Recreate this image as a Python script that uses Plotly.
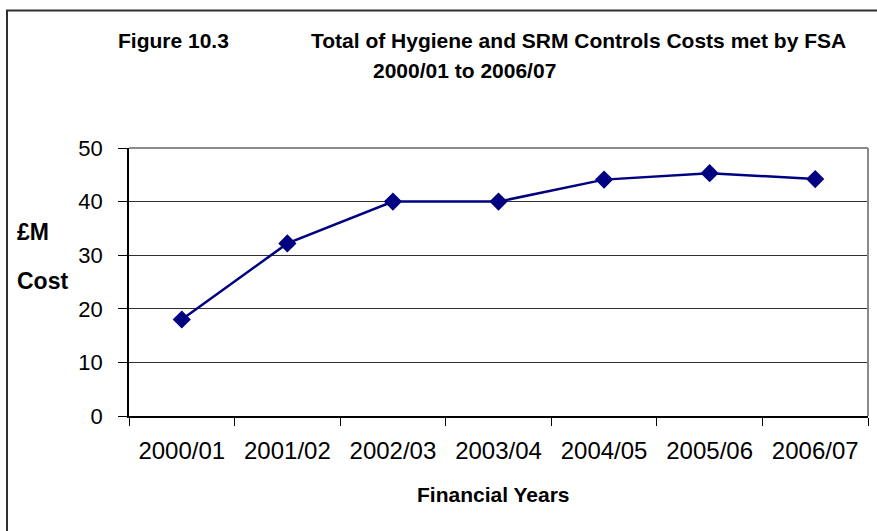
import plotly.graph_objects as go

years = ["2000/01", "2001/02", "2002/03", "2003/04", "2004/05", "2005/06", "2006/07"]
cost = [18.0, 32.2, 40.0, 40.0, 44.1, 45.3, 44.2]
y_ticks = [0, 10, 20, 30, 40, 50]

W, H = 877, 531
L, R, T, B = 129, 868, 147.5, 415.7

def px(x):
    return (x - L) / (R - L)

def py(y):
    return (B - y) / (B - T)

FONT = "Liberation Sans, Arial, sans-serif"

fig = go.Figure()
fig.add_trace(go.Scatter(
    x=years, y=cost, mode="lines+markers",
    line=dict(color="#000080", width=2.5),
    marker=dict(symbol="diamond", size=14, color="#000080"),
    showlegend=False, cliponaxis=False,
))

fig.update_layout(
    width=W, height=H,
    margin=dict(l=L, r=W - R, t=T, b=H - B, pad=0),
    paper_bgcolor="white", plot_bgcolor="white",
    font=dict(family=FONT, color="black"),
    xaxis=dict(
        type="category", range=[-0.5, len(years) - 0.5],
        showgrid=False, showline=True, linecolor="black", linewidth=1.5,
        ticks="outside", tickson="boundaries", ticklen=8, tickcolor="black",
        tickfont=dict(size=24, family=FONT), ticklabelstandoff=12,
        zeroline=False,
    ),
    yaxis=dict(
        range=[0, 50], tickvals=y_ticks,
        showgrid=True, gridcolor="#303030", gridwidth=1,
        showline=True, linecolor="black", linewidth=1.5,
        ticks="outside", ticklen=9, tickcolor="black",
        tickfont=dict(size=22, family=FONT), ticklabelstandoff=11,
        zeroline=False,
    ),
    shapes=[
        dict(type="line", xref="paper", yref="paper", x0=0, x1=1, y0=1, y1=1,
             line=dict(color="#8a8a8a", width=2)),
        dict(type="line", xref="paper", yref="paper", x0=1, x1=1, y0=0, y1=1,
             line=dict(color="#8a8a8a", width=2)),
        dict(type="rect", xref="paper", yref="paper",
             x0=px(7), x1=px(885), y0=py(545), y1=py(10),
             line=dict(color="#303030", width=2)),
    ],
)

def ann(text, x, y, size, xanchor="center"):
    fig.add_annotation(text=text, x=px(x), y=py(y), xref="paper", yref="paper",
                       xanchor=xanchor, yanchor="middle", showarrow=False,
                       font=dict(size=size, family=FONT, color="black"))

ann("<b>Figure 10.3</b>", 116, 40, 21, "left")
ann("<b>Total of Hygiene and SRM Controls Costs met by FSA</b>", 309, 40, 21, "left")
ann("<b>2000/01 to 2006/07</b>", 464, 70, 21)
ann("<b>£M</b>", 15, 232, 23, "left")
ann("<b>Cost</b>", 15, 281, 23, "left")
ann("<b>Financial Years</b>", 493, 494, 21)

fig.write_html("out.html")
